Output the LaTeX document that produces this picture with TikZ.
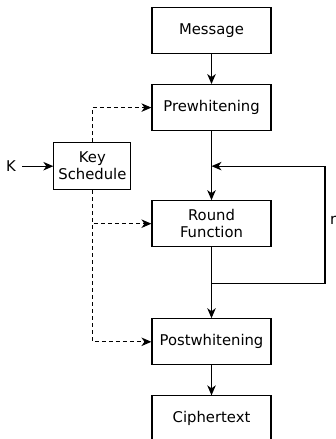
\documentclass[tikz,border=0pt]{standalone}
\usepackage{fontspec}
\setmainfont{DejaVu Sans}
\usetikzlibrary{positioning,arrows.meta}

\begin{document}
\begin{tikzpicture}[
    x=1pt, y=1pt,
    node distance=30pt,
    ->,
    >={Stealth[length=10pt,width=8.5pt,inset=3pt]},
    line width=1.1pt,
    font=\fontsize{14.8}{17}\selectfont
]


\tikzstyle{block}=[
    draw,
    rectangle,
    minimum width=119pt,
    minimum height=46pt,
    inner sep=2pt,
    align=center
]
\tikzstyle{keyblock}=[block, minimum width=77pt, minimum height=47pt]
\tikzstyle{keyline}=[dash pattern=on 4pt off 3pt]


\useasboundingbox (0,0) rectangle (336,439);


\node[block] (msg) at (211.5,408.5) {Message};
\node[block, below=of msg] (pre) {Prewhitening};
\node[block, below=69pt of pre] (rf) {Round\\Function};
\node[block, below=71pt of rf] (post) {Postwhitening};
\node[block, below=of post] (ct) {Ciphertext};

\node[keyblock, below left=11pt and 20pt of pre] (key) {Key\\Schedule};
\node[left=31pt of key, inner sep=6pt] (k) {K};


\coordinate[below=35pt of pre.south] (join);
\coordinate[below=36pt of rf.south] (split);
\coordinate (loopx) at (325,0);


\draw (msg) -- (pre);
\draw (pre) -- (rf);
\draw (rf) -- (post);
\draw (post) -- (ct);
\draw (k) -- (key);

\draw (split) -- (split -| loopx) -- (join -| loopx) -- (join);
\node[anchor=west, inner sep=1pt] (rounds) at (328.5,219) {r};


\draw[keyline] (key) |- (pre);
\draw[keyline] (key) |- (rf);
\draw[keyline] (key) |- (post);

\end{tikzpicture}
\end{document}
